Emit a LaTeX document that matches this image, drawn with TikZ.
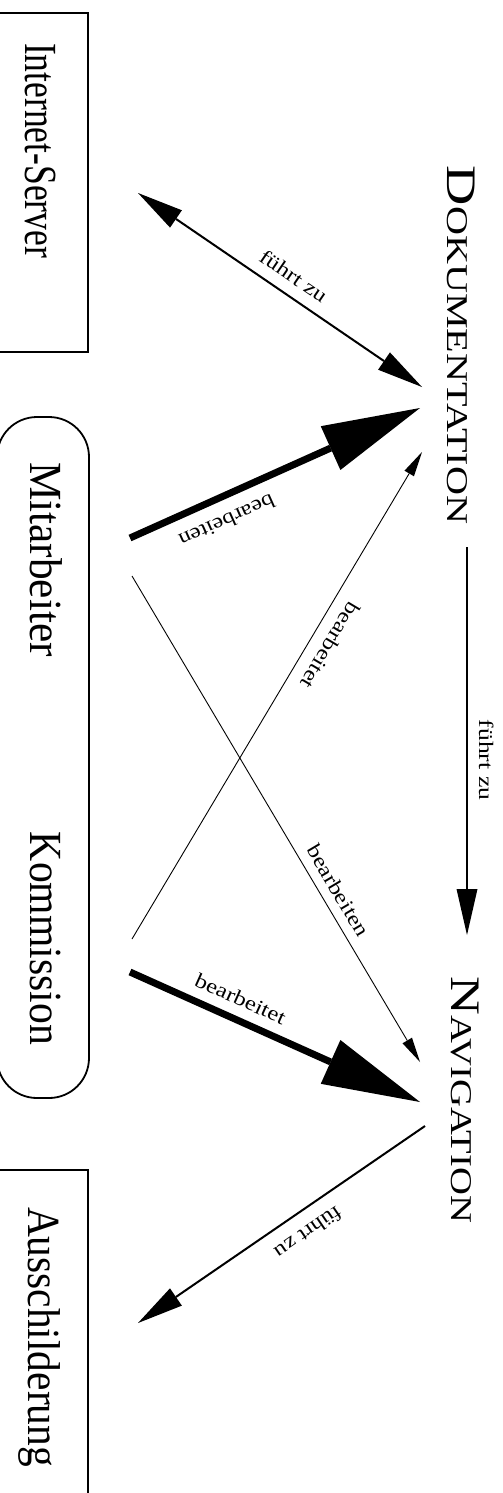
\documentclass[tikz,border=0pt]{standalone}
\usepackage{fontspec}
\setmainfont{Liberation Serif}
\usepackage{graphicx}
\usetikzlibrary{arrows.meta,calc}
\newcommand\stretchx[2]{\scalebox{#1}[1]{#2}}
\newcommand\smc[2]{#1{\fontsize{30.2}{30.2}\selectfont #2}}
\begin{document}
\begin{tikzpicture}[x=1pt,y=1pt,
  box/.style={line width=1.8pt},
  bigtext/.style={font=\fontsize{46}{46}\selectfont, rotate=-90, inner sep=0pt, anchor=base},
  sctext/.style={font=\fontsize{42}{42}\selectfont, rotate=-90, inner sep=0pt, anchor=base},
  lbl/.style={sloped, allow upside down, above, inner xsep=0pt, inner ysep=#1, font=\fontsize{20.5}{20.5}\selectfont},
  thinarr/.style={line width=0.9pt, -{Triangle[length=25pt,width=11pt,line width=0pt]}},
  thinarrR/.style={line width=0.9pt, {Triangle[length=25pt,width=11pt,line width=0pt]}-},
  medarr/.style={line width=2pt, -{Triangle[length=46pt,width=21pt,line width=0pt]}},
  medarrB/.style={line width=2pt, {Triangle[length=46pt,width=21pt,line width=0pt]}-{Triangle[length=46pt,width=21pt,line width=0pt]}},
  bigarr/.style={line width=7pt, -{Triangle[length=98pt,width=48pt,line width=0pt]}},
  bigarrR/.style={line width=7pt, {Triangle[length=98pt,width=48pt,line width=0pt]}-},
]
\useasboundingbox (0,0) rectangle (503,-1493);
% boxes
\draw[box] (-3,-12.7) rectangle (88,-351.7);
\draw[box, rounded corners=40pt] (-3,-417) rectangle (89,-1098);
\draw[box] (-3,-1170) rectangle (88,-1510);
% texts
\node[bigtext] (is) at (25,-150.5) {\stretchx{0.772}{Internet-Server}};
\node[bigtext] (mit) at (30,-559.5) {\stretchx{0.942}{Mitarbeiter}};
\node[bigtext] (kom) at (30,-938.5) {\stretchx{0.906}{Kommission}};
\node[bigtext] (aus) at (28,-1337) {\stretchx{0.90}{Ausschilderung}};
\node[sctext] (doku) at (447,-345) {\stretchx{1.33}{\smc{D}{OKUMENTATION}}};
\node[sctext] (nav) at (451,-1100) {\stretchx{1.28}{\smc{N}{AVIGATION}}};
% connectors
\draw[medarrB] ($(is.base)+(113,-42.5)$) -- node[lbl=11pt, pos=0.51] {\stretchx{1.2}{führt zu}} ($(doku.base)+(-25,-42)$);
\draw[bigarrR] ($(doku.base)+(-27,-63)$) -- node[lbl=13.5pt, pos=0.70] {\stretchx{1.2}{bearbeiten}} ($(mit.base)+(100,21.5)$);
\draw[thinarrR] ($(doku.base)+(-25,-107)$) -- node[lbl=12.7pt, pos=0.376] {\stretchx{1.2}{bearbeitet}} ($(kom.base)+(102,-0.5)$);
\draw[thinarr] ($(mit.base)+(102,-16.5)$) -- node[lbl=9.5pt, pos=0.665] {\stretchx{1.2}{bearbeiten}} ($(nav.base)+(-31,38)$);
\draw[bigarr] ($(kom.base)+(100,-33.5)$) -- node[lbl=10.1pt, pos=0.352] {\stretchx{1.2}{bearbeitet}} ($(nav.base)+(-31,-2)$);
\draw[medarr] ($(nav.base)+(-26,-26)$) -- node[lbl=14pt, pos=0.45] {\stretchx{1.2}{führt zu}} ($(aus.base)+(110,14)$);
\draw[medarr] ($(doku.base)+(20,-202)$) -- node[lbl=10.9pt, pos=0.549] {\stretchx{1.25}{führt zu}} ($(nav.base)+(16,165)$);
\end{tikzpicture}
\end{document}
